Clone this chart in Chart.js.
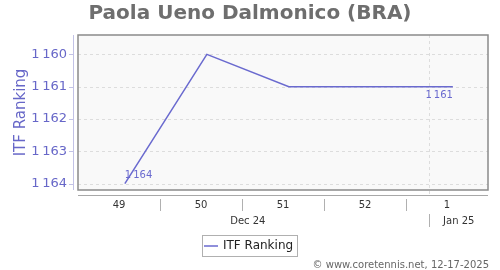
<!DOCTYPE html>
<html>
<head>
<meta charset="utf-8">
<script src="https://cdn.jsdelivr.net/npm/chart.js@4.4.1/dist/chart.umd.min.js"></script>
<style>
  html, body { margin: 0; padding: 0; background: #fff; }
  #wrap { width: 500px; height: 270px; position: relative; }
</style>
</head>
<body>
<div id="wrap"><canvas id="rankChart"></canvas></div>
<script>
// days counted from Mon Dec 2, 2024
var pointDays = [4, 11, 18, 25, 32];
var rankings = [1164, 1160, 1161, 1161, 1161];
var weekLabels = ['49', '50', '51', '52', '1'];
var weekCenters = [3.5, 10.5, 17.5, 24.5, 31.5];
var weekBounds = [7, 14, 21, 28];
var monthLabels = ['Dec 24', 'Jan 25'];
var monthCenters = [14.5, 32.5];
var monthBounds = [30];
var yTicks = [1160, 1161, 1162, 1163, 1164];

var lineColor = '#6a6acf';
var axisColor = '#6767c8';
var font = '"DejaVu Sans", sans-serif';

function fmt(v) {
  var s = String(v);
  return s.length > 3 ? s.slice(0, -3) + '\u2009' + s.slice(-3) : s;
}

var decorPlugin = {
  id: 'decor',
  beforeDraw: function(chart) {
    var c = chart.ctx, a = chart.chartArea;
    c.save();
    c.fillStyle = '#ffffff';
    c.fillRect(0, 0, chart.width, chart.height);
    c.fillStyle = '#f9f9f9';
    c.fillRect(a.left, a.top, a.right - a.left, a.bottom - a.top);
    c.restore();
  },
  beforeDatasetsDraw: function(chart) {
    var c = chart.ctx, a = chart.chartArea;
    var xs = chart.scales.x, ys = chart.scales.y;
    c.save();
    c.strokeStyle = '#dddddd';
    c.lineWidth = 1;
    c.setLineDash([3, 3]);
    yTicks.forEach(function(t) {
      var y = Math.round(ys.getPixelForValue(t)) + 0.5;
      c.beginPath(); c.moveTo(a.left, y); c.lineTo(a.right, y); c.stroke();
    });
    monthBounds.forEach(function(d) {
      var x = Math.round(xs.getPixelForValue(d)) + 0.5;
      c.beginPath(); c.moveTo(x, a.top); c.lineTo(x, a.bottom + 7); c.stroke();
    });
    c.restore();
  },
  afterDatasetsDraw: function(chart) {
    var c = chart.ctx, a = chart.chartArea;
    var xs = chart.scales.x, ys = chart.scales.y;
    c.save();
    // plot frame
    c.strokeStyle = '#8a8a8a';
    c.lineWidth = 1.5;
    c.strokeRect(a.left, a.top, a.right - a.left, a.bottom - a.top);

    // y axis line and ticks
    c.strokeStyle = '#c2c2e6';
    c.lineWidth = 1;
    c.beginPath(); c.moveTo(a.left - 4.5, a.top); c.lineTo(a.left - 4.5, a.bottom); c.stroke();
    yTicks.forEach(function(t) {
      var y = Math.round(ys.getPixelForValue(t)) + 0.5;
      c.beginPath(); c.moveTo(a.left - 9, y); c.lineTo(a.left - 4.5, y); c.stroke();
    });

    // x axis line and week separators
    c.strokeStyle = '#a8a8a8';
    c.beginPath(); c.moveTo(a.left, a.bottom + 5.5); c.lineTo(a.right, a.bottom + 5.5); c.stroke();
    c.strokeStyle = '#b0b0b0';
    weekBounds.forEach(function(d) {
      var x = Math.round(xs.getPixelForValue(d)) + 0.5;
      c.beginPath(); c.moveTo(x, a.bottom + 9); c.lineTo(x, a.bottom + 21); c.stroke();
    });
    monthBounds.forEach(function(d) {
      var x = Math.round(xs.getPixelForValue(d)) + 0.5;
      c.beginPath(); c.moveTo(x, a.bottom + 24); c.lineTo(x, a.bottom + 37); c.stroke();
    });

    // month labels
    c.fillStyle = '#333333';
    c.font = '10px ' + font;
    c.textAlign = 'center';
    c.textBaseline = 'middle';
    monthLabels.forEach(function(l, i) {
      c.fillText(l, xs.getPixelForValue(monthCenters[i]), a.bottom + 31);
    });

    // value labels on first and last point
    var n = pointDays.length;
    c.fillStyle = lineColor;
    c.font = '10px ' + font;
    c.textAlign = 'left';
    c.fillText(fmt(rankings[0]), xs.getPixelForValue(pointDays[0]), ys.getPixelForValue(rankings[0]) - 8);
    c.textAlign = 'right';
    c.fillText(fmt(rankings[n - 1]), xs.getPixelForValue(pointDays[n - 1]), ys.getPixelForValue(rankings[n - 1]) + 9);

    // legend box
    var ds = chart.data.datasets[0];
    c.strokeStyle = '#b0b0b0';
    c.lineWidth = 1;
    c.strokeRect(202.5, 235.5, 95, 21);
    c.strokeStyle = ds.borderColor;
    c.lineWidth = 1.5;
    c.beginPath(); c.moveTo(204, 246); c.lineTo(218, 246); c.stroke();
    c.fillStyle = '#222222';
    c.font = '12px ' + font;
    c.textAlign = 'left';
    c.fillText(ds.label, 223, 246);

    // credit
    c.fillStyle = '#666666';
    c.font = '10px ' + font;
    c.textAlign = 'right';
    c.fillText('\u00a9 www.coretennis.net, 12-17-2025', 489, 265);
    c.restore();
  }
};

new Chart(document.getElementById('rankChart'), {
  type: 'line',
  data: {
    datasets: [{
      label: 'ITF Ranking',
      data: pointDays.map(function(d, i) { return { x: d, y: rankings[i] }; }),
      borderColor: lineColor,
      borderWidth: 1.5,
      pointRadius: 0,
      tension: 0,
      fill: false
    }]
  },
  options: {
    responsive: true,
    maintainAspectRatio: false,
    animation: false,
    layout: { padding: { left: 12, right: 12, top: 0, bottom: 40 } },
    plugins: {
      legend: { display: false },
      tooltip: { enabled: false },
      title: {
        display: true,
        text: 'Paola Ueno Dalmonico (BRA)',
        color: '#6e6e6e',
        font: { family: font, size: 20, weight: 'bold' },
        padding: { top: 2, bottom: 9 }
      }
    },
    scales: {
      x: {
        type: 'linear',
        min: 0,
        max: 35,
        afterBuildTicks: function(axis) {
          axis.ticks = weekCenters.map(function(v) { return { value: v }; });
        },
        afterFit: function(axis) { axis.height = 40; },
        grid: { display: false, drawTicks: false },
        border: { display: false },
        ticks: {
          autoSkip: false,
          maxRotation: 0,
          padding: 9,
          color: '#333333',
          font: { family: font, size: 10 },
          callback: function(v, i) { return weekLabels[i]; }
        }
      },
      y: {
        reverse: true,
        min: 1159.4,
        max: 1164.2,
        afterBuildTicks: function(axis) {
          axis.ticks = yTicks.map(function(v) { return { value: v }; });
        },
        afterFit: function(axis) { axis.width = 66; },
        grid: { display: false, drawTicks: false },
        border: { display: false },
        ticks: {
          padding: 11,
          color: axisColor,
          font: { family: font, size: 13 },
          callback: function(v) { return fmt(v); }
        },
        title: {
          display: true,
          text: 'ITF Ranking',
          color: axisColor,
          font: { family: font, size: 15 },
          padding: { top: 0, bottom: 0 }
        }
      }
    }
  },
  plugins: [decorPlugin]
});
</script>
</body>
</html>
